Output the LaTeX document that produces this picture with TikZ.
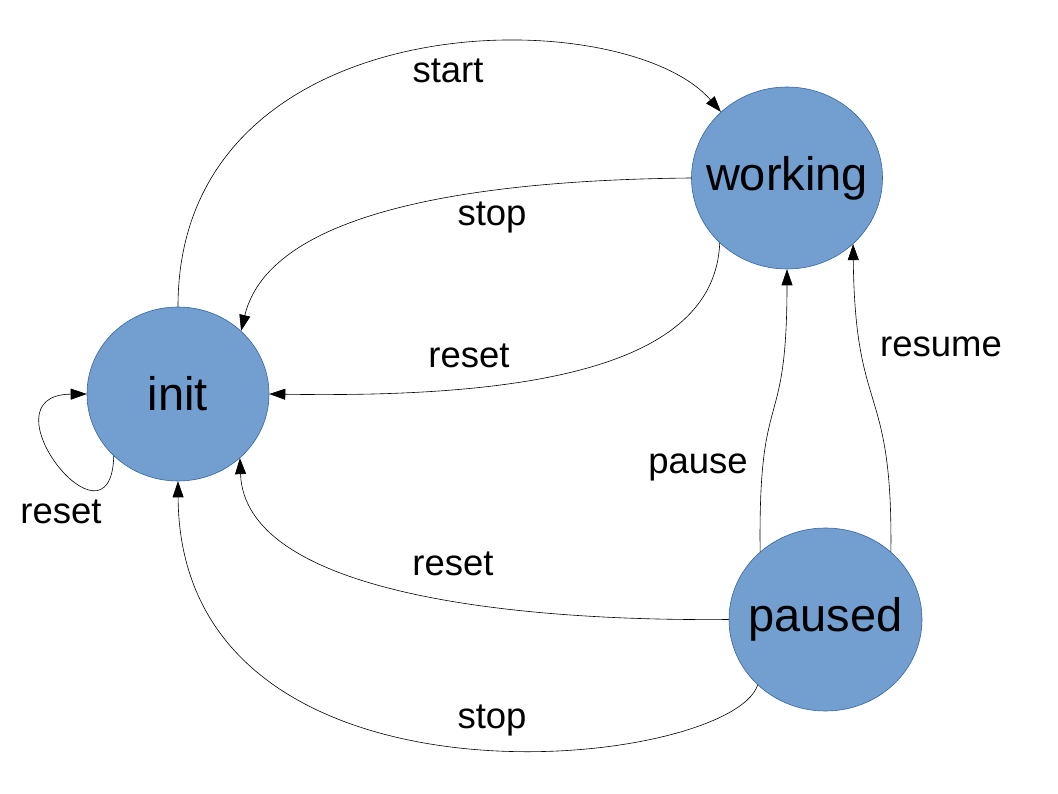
\documentclass[tikz,border=0pt]{standalone}
\usepackage{fontspec}
\setmainfont{Liberation Sans}
\usetikzlibrary{arrows.meta,shapes.geometric}
\definecolor{stateFill}{HTML}{729FCF}
\definecolor{stateLine}{HTML}{3465A4}

\begin{document}
\begin{tikzpicture}[x=1pt,y=-1pt,
    state/.style={ellipse,draw=stateLine,line width=0.6pt,fill=stateFill,inner xsep=-30pt,inner ysep=0pt,font=\fontsize{47}{56}\selectfont},
    lbl/.style={anchor=base,inner sep=0pt,font=\fontsize{36.5}{44}\selectfont},
    trans/.style={line width=0.6pt,-{Triangle[length=16pt,width=11pt]}}]
  \useasboundingbox (0,0) rectangle (1058,794);
  % states
  \node[state,minimum width=182pt,minimum height=174pt] (init) at (178,394) {init};
  \node[state,minimum width=191pt,minimum height=182pt] (working) at (787,178) {working};
  \node[state,minimum width=193pt,minimum height=183pt] (paused) at (825.5,619.5) {paused};
  % transitions
  \draw[trans] (init.north) .. controls +(0,-307) and +(-98,-113) .. (working.135);
  \draw[trans] (working.west) .. controls +(-212,2) and +(29,-121) .. (init.45);
  \draw[trans] (working.224) .. controls +(-5,127) and +(251,4) .. (init.east);
  \draw[trans] (init.224) .. controls +(-3,105) and +(-107,1) .. (init.west);
  \draw[trans] (paused.west) .. controls +(-229,2) and +(5,132) .. (init.-46);
  \draw[trans] (paused.224) .. controls +(-28,85) and +(2,349) .. (init.south);
  \draw[trans] (paused.134) .. controls +(-2,-172) and +(0,171) .. (working.south);
  \draw[trans] (paused.46) .. controls +(2,-172) and +(2,176) .. (working.-45);
  % labels
  \node[lbl] (lstart) at (448,83) {start};
  \node[lbl] (lstopw) at (492,226) {stop};
  \node[lbl] (lresetw) at (469,368) {reset};
  \node[lbl] (lloop) at (61,523) {reset};
  \node[lbl] (lpause) at (698,473) {pause};
  \node[lbl] (lresume) at (941,357) {resume};
  \node[lbl] (lresetp) at (453,575) {reset};
  \node[lbl] (lstopp) at (492,728) {stop};
\end{tikzpicture}
\end{document}
